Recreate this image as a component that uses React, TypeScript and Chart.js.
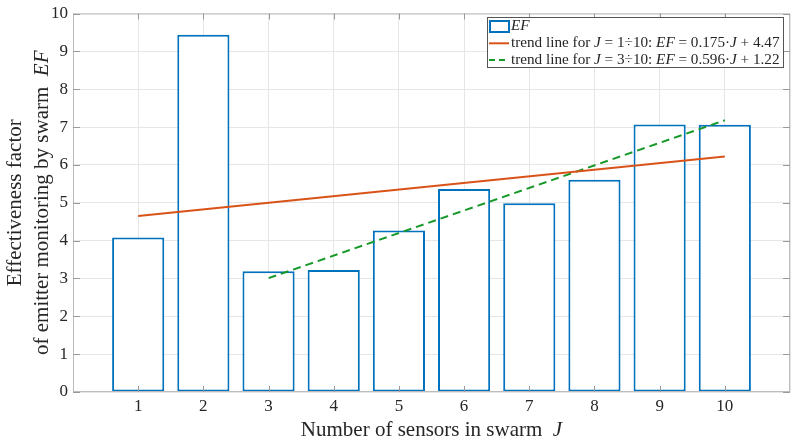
import { useEffect, useRef } from "react"
import { Chart, registerables } from "chart.js"

Chart.register(...registerables)

// values
const sensorCounts = [1, 2, 3, 4, 5, 6, 7, 8, 9, 10]
const efValues = [4.08, 9.44, 3.19, 3.22, 4.27, 5.36, 4.99, 5.61, 7.07, 7.06]
const trendAllJ = [1, 10]
const trendAllEF = [4.65, 6.22]
const trendSubJ = [3, 10]
const trendSubEF = [3.01, 7.18]
const yTickValues = [0, 1, 2, 3, 4, 5, 6, 7, 8, 9, 10]

const FONT = "'Liberation Serif', 'DejaVu Serif', serif"
const BLUE = "#0072BD"
const ORANGE = "#D95319"
const GREEN = "#17992a"
const TEXT = "#262626"

type Seg = [string, boolean]

const legendRows: Seg[][] = [
  [["EF", true]],
  [["trend line for ", false], ["J", true], [" = 1÷10: ", false], ["EF", true], [" = 0.175·", false], ["J", true], [" + 4.47", false]],
  [["trend line for ", false], ["J", true], [" = 3÷10: ", false], ["EF", true], [" = 0.596·", false], ["J", true], [" + 1.22", false]],
]
const xTitle: Seg[] = [["Number of sensors in swarm  ", false], ["J", true]]
const yTitle1: Seg[] = [["Effectiveness factor", false]]
const yTitle2: Seg[] = [["of emitter monitoring by swarm  ", false], ["EF", true]]

function drawRich(ctx: CanvasRenderingContext2D, segs: Seg[], x: number, y: number, size: number, align: "left" | "center") {
  const fontFor = (it: boolean) => `${it ? "italic " : ""}${size}px ${FONT}`
  let total = 0
  for (const [t, it] of segs) {
    ctx.font = fontFor(it)
    total += ctx.measureText(t).width
  }
  let cx = align === "center" ? x - total / 2 : x
  ctx.textAlign = "left"
  ctx.textBaseline = "middle"
  ctx.fillStyle = TEXT
  for (const [t, it] of segs) {
    ctx.font = fontFor(it)
    ctx.fillText(t, cx, y)
    cx += ctx.measureText(t).width
  }
}

const decorPlugin = {
  id: "decor",
  afterDatasetsDraw(chart: any) {
    const { ctx, chartArea: a, scales } = chart
    const xs = scales.x
    const ys = scales.y
    ctx.save()
    // frame
    ctx.strokeStyle = "#bcbcbc"
    ctx.lineWidth = 1
    ctx.strokeRect(a.left + 0.5, a.top + 0.5, a.right - a.left - 1, a.bottom - a.top - 1)
    // inward ticks
    ctx.strokeStyle = "#9a9a9a"
    ctx.beginPath()
    for (const j of sensorCounts) {
      const px = Math.round(xs.getPixelForValue(j)) + 0.5
      ctx.moveTo(px, a.bottom)
      ctx.lineTo(px, a.bottom - 6)
      ctx.moveTo(px, a.top)
      ctx.lineTo(px, a.top + 6)
    }
    for (const v of yTickValues) {
      const py = Math.round(ys.getPixelForValue(v)) + 0.5
      ctx.moveTo(a.left, py)
      ctx.lineTo(a.left + 7, py)
      ctx.moveTo(a.right, py)
      ctx.lineTo(a.right - 7, py)
    }
    ctx.stroke()
    ctx.restore()
  },
  afterDraw(chart: any) {
    const { ctx, chartArea: a } = chart
    ctx.save()
    // axis titles
    drawRich(ctx, xTitle, (a.left + a.right) / 2, 430, 21, "center")
    const cy = (a.top + a.bottom) / 2
    ctx.save()
    ctx.translate(15, cy)
    ctx.rotate(-Math.PI / 2)
    drawRich(ctx, yTitle1, 0, 0, 21, "center")
    ctx.restore()
    ctx.save()
    ctx.translate(42, cy)
    ctx.rotate(-Math.PI / 2)
    drawRich(ctx, yTitle2, 0, 0, 21, "center")
    ctx.restore()

    // legend
    const bx = 487.5
    const by = 17.5
    const bw = 296
    const bh = 50
    ctx.fillStyle = "white"
    ctx.fillRect(bx, by, bw, bh)
    ctx.strokeStyle = "#555"
    ctx.lineWidth = 1
    ctx.strokeRect(bx, by, bw, bh)
    const rowY = [26.5, 43.3, 60]
    // bar sample
    ctx.strokeStyle = BLUE
    ctx.lineWidth = 2
    ctx.strokeRect(490, 21, 19, 11)
    // orange sample
    ctx.strokeStyle = ORANGE
    ctx.beginPath()
    ctx.moveTo(489, rowY[1])
    ctx.lineTo(509, rowY[1])
    ctx.stroke()
    // green sample
    ctx.strokeStyle = GREEN
    ctx.setLineDash([6, 4])
    ctx.beginPath()
    ctx.moveTo(489, rowY[2])
    ctx.lineTo(509, rowY[2])
    ctx.stroke()
    ctx.setLineDash([])
    legendRows.forEach((segs, i) => drawRich(ctx, segs, 511, rowY[i], 15.2, "left"))
    ctx.restore()
  },
}

export default function App() {
  const canvasRef = useRef<HTMLCanvasElement>(null)

  useEffect(() => {
    if (!canvasRef.current) return
    const chart = new Chart(canvasRef.current, {
      type: "bar",
      data: {
        datasets: [
          {
            type: "line",
            label: "trend 1-10",
            data: trendAllJ.map((j, i) => ({ x: j, y: trendAllEF[i] })),
            borderColor: ORANGE,
            borderWidth: 2,
            pointRadius: 0,
            order: 0,
          },
          {
            type: "line",
            label: "trend 3-10",
            data: trendSubJ.map((j, i) => ({ x: j, y: trendSubEF[i] })),
            borderColor: GREEN,
            borderWidth: 2,
            borderDash: [8, 5],
            pointRadius: 0,
            order: 0,
          },
          {
            type: "bar",
            label: "EF",
            data: sensorCounts.map((j, i) => ({ x: j, y: efValues[i] })),
            backgroundColor: "white",
            borderColor: BLUE,
            borderWidth: 2,
            borderSkipped: false,
            barPercentage: 1,
            categoryPercentage: 0.8,
            order: 1,
          },
        ] as any,
      },
      options: {
        animation: false,
        responsive: true,
        maintainAspectRatio: false,
        layout: { padding: { top: 9, right: 5, left: 0, bottom: 0 } },
        scales: {
          x: {
            type: "linear",
            min: 0,
            max: 11,
            offset: false,
            grid: { color: "#e6e6e6", drawTicks: false, offset: false },
            border: { display: false },
            ticks: {
              stepSize: 1,
              padding: 6,
              color: TEXT,
              font: { family: FONT, size: 17, lineHeight: 1 },
              maxRotation: 0,
              callback: (v: any) => (sensorCounts.includes(Number(v)) ? String(v) : ""),
            },
            afterFit: (s: any) => {
              s.height = 48
            },
          },
          y: {
            min: 0,
            max: 10,
            grid: { color: "#e6e6e6", drawTicks: false },
            border: { display: false },
            ticks: {
              stepSize: 1,
              padding: 5,
              color: TEXT,
              font: { family: FONT, size: 17, lineHeight: 1 },
            },
            afterFit: (s: any) => {
              s.width = 73
            },
          },
        },
        plugins: {
          legend: { display: false },
          tooltip: { enabled: false },
        },
      },
      plugins: [decorPlugin],
    })

    return () => {
      chart.destroy()
    }
  }, [])

  return (
    <div style={{ position: "absolute", left: 0, top: 0, width: 796, height: 440, background: "white" }}>
      <canvas ref={canvasRef} />
    </div>
  )
}
